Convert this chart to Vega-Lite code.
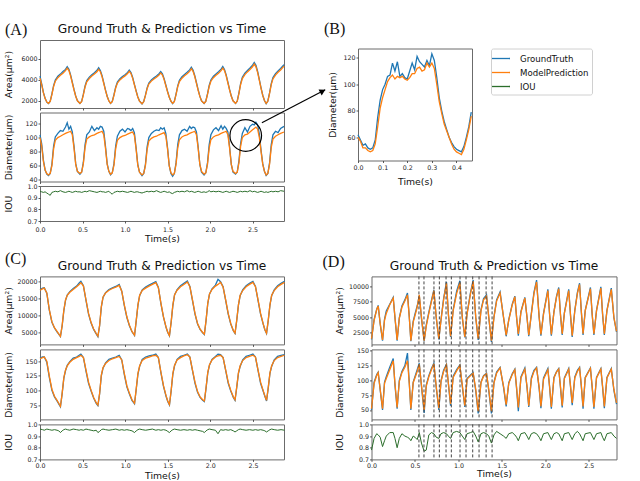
{
"$schema":"https://vega.github.io/schema/vega-lite/v6.json",
"background":"white",
"autosize":{"type":"pad"},
"padding":{"left":3,"top":20.5,"right":0,"bottom":0},
"config":{
 "view":{"stroke":"#6b6b6b","strokeWidth":1},
 "axis":{"grid":false,"domain":false,"tickSize":2,"tickWidth":0.8,"tickColor":"#333","labelFont":"DejaVu Sans","labelFontSize":6.3,"labelColor":"#222","labelPadding":1,"labelFlush":false,"labelOverlap":false,"titleFont":"DejaVu Sans","titleFontSize":9.3,"titleFontWeight":"normal","titleColor":"#111"},
 "title":{"font":"DejaVu Sans","fontWeight":"normal","color":"#111","baseline":"alphabetic","frame":"group"},
 "line":{"strokeWidth":1.3}
},
"datasets":{
"A":[
{"t":0,"ag":4350,"ap":4150,"dg":104,"dp":100,"i":0.955},
{"t":0.02,"ag":3600,"ap":3500,"dg":91,"dp":88,"i":0.95},
{"t":0.04,"ag":2800,"ap":2750,"dg":68,"dp":66,"i":0.945},
{"t":0.06,"ag":2230,"ap":2200,"dg":54,"dp":54,"i":0.95},
{"t":0.08,"ag":1860,"ap":1880,"dg":48,"dp":49,"i":0.94},
{"t":0.1,"ag":1720,"ap":1750,"dg":46,"dp":47,"i":0.93},
{"t":0.12,"ag":1950,"ap":1920,"dg":49,"dp":49,"i":0.92},
{"t":0.14,"ag":2650,"ap":2590,"dg":62,"dp":60,"i":0.945},
{"t":0.16,"ag":3440,"ap":3360,"dg":88,"dp":84,"i":0.95},
{"t":0.18,"ag":3980,"ap":3860,"dg":101,"dp":96,"i":0.955},
{"t":0.21,"ag":4330,"ap":4200,"dg":106,"dp":100,"i":0.95},
{"t":0.24,"ag":4540,"ap":4430,"dg":110,"dp":102,"i":0.96},
{"t":0.27,"ag":4780,"ap":4630,"dg":109,"dp":104,"i":0.95},
{"t":0.3,"ag":4990,"ap":4870,"dg":115,"dp":106,"i":0.945},
{"t":0.32,"ag":5250,"ap":5100,"dg":121,"dp":107,"i":0.95},
{"t":0.34,"ag":5000,"ap":4870,"dg":112,"dp":108,"i":0.955},
{"t":0.36,"ag":4470,"ap":4360,"dg":116,"dp":109,"i":0.95},
{"t":0.38,"ag":3780,"ap":3690,"dg":108,"dp":104,"i":0.945},
{"t":0.4,"ag":3080,"ap":3020,"dg":88,"dp":85,"i":0.95},
{"t":0.42,"ag":2450,"ap":2420,"dg":63,"dp":62,"i":0.955},
{"t":0.44,"ag":2000,"ap":1990,"dg":52,"dp":52,"i":0.95},
{"t":0.47,"ag":1730,"ap":1750,"dg":48,"dp":49,"i":0.95},
{"t":0.49,"ag":1940,"ap":1910,"dg":51,"dp":51,"i":0.945},
{"t":0.51,"ag":2620,"ap":2560,"dg":65,"dp":63,"i":0.95},
{"t":0.53,"ag":3400,"ap":3310,"dg":90,"dp":86,"i":0.955},
{"t":0.55,"ag":3920,"ap":3800,"dg":104,"dp":98,"i":0.95},
{"t":0.58,"ag":4250,"ap":4120,"dg":108,"dp":101,"i":0.96},
{"t":0.61,"ag":4470,"ap":4350,"dg":116,"dp":103,"i":0.955},
{"t":0.64,"ag":4680,"ap":4550,"dg":110,"dp":104,"i":0.95},
{"t":0.67,"ag":4900,"ap":4770,"dg":114,"dp":106,"i":0.945},
{"t":0.69,"ag":5150,"ap":5000,"dg":112,"dp":107,"i":0.95},
{"t":0.71,"ag":4880,"ap":4770,"dg":116,"dp":108,"i":0.955},
{"t":0.73,"ag":4390,"ap":4290,"dg":115,"dp":109,"i":0.95},
{"t":0.75,"ag":3720,"ap":3640,"dg":109,"dp":104,"i":0.95},
{"t":0.77,"ag":3040,"ap":2990,"dg":88,"dp":85,"i":0.945},
{"t":0.79,"ag":2420,"ap":2400,"dg":63,"dp":62,"i":0.95},
{"t":0.81,"ag":1990,"ap":1980,"dg":52,"dp":52,"i":0.955},
{"t":0.83,"ag":1740,"ap":1750,"dg":47,"dp":48,"i":0.94},
{"t":0.85,"ag":1930,"ap":1900,"dg":50,"dp":50,"i":0.93},
{"t":0.87,"ag":2570,"ap":2510,"dg":63,"dp":61,"i":0.945},
{"t":0.89,"ag":3290,"ap":3210,"dg":88,"dp":84,"i":0.95},
{"t":0.91,"ag":3780,"ap":3670,"dg":102,"dp":96,"i":0.955},
{"t":0.94,"ag":4100,"ap":3980,"dg":109,"dp":100,"i":0.95},
{"t":0.97,"ag":4300,"ap":4190,"dg":112,"dp":102,"i":0.955},
{"t":1.0,"ag":4480,"ap":4370,"dg":108,"dp":103,"i":0.95},
{"t":1.03,"ag":4700,"ap":4590,"dg":113,"dp":105,"i":0.945},
{"t":1.05,"ag":4930,"ap":4800,"dg":112,"dp":106,"i":0.95},
{"t":1.07,"ag":4700,"ap":4590,"dg":110,"dp":107,"i":0.955},
{"t":1.09,"ag":4220,"ap":4130,"dg":113,"dp":108,"i":0.95},
{"t":1.11,"ag":3590,"ap":3520,"dg":107,"dp":103,"i":0.945},
{"t":1.13,"ag":2960,"ap":2910,"dg":86,"dp":84,"i":0.95},
{"t":1.15,"ag":2380,"ap":2360,"dg":62,"dp":61,"i":0.95},
{"t":1.17,"ag":1970,"ap":1960,"dg":51,"dp":51,"i":0.945},
{"t":1.2,"ag":1680,"ap":1700,"dg":46,"dp":47,"i":0.94},
{"t":1.22,"ag":1920,"ap":1900,"dg":49,"dp":49,"i":0.945},
{"t":1.24,"ag":2530,"ap":2480,"dg":62,"dp":60,"i":0.95},
{"t":1.26,"ag":3220,"ap":3140,"dg":87,"dp":83,"i":0.955},
{"t":1.28,"ag":3680,"ap":3580,"dg":100,"dp":95,"i":0.95},
{"t":1.31,"ag":3980,"ap":3870,"dg":106,"dp":99,"i":0.955},
{"t":1.34,"ag":4190,"ap":4070,"dg":109,"dp":101,"i":0.95},
{"t":1.37,"ag":4350,"ap":4240,"dg":111,"dp":102,"i":0.96},
{"t":1.4,"ag":4580,"ap":4450,"dg":110,"dp":104,"i":0.95},
{"t":1.42,"ag":4780,"ap":4650,"dg":114,"dp":105,"i":0.945},
{"t":1.44,"ag":4560,"ap":4450,"dg":112,"dp":106,"i":0.95},
{"t":1.46,"ag":4100,"ap":4010,"dg":114,"dp":107,"i":0.955},
{"t":1.48,"ag":3500,"ap":3430,"dg":106,"dp":102,"i":0.95},
{"t":1.5,"ag":2900,"ap":2850,"dg":86,"dp":84,"i":0.945},
{"t":1.52,"ag":2350,"ap":2330,"dg":60,"dp":60,"i":0.95},
{"t":1.54,"ag":1950,"ap":1950,"dg":49,"dp":50,"i":0.94},
{"t":1.56,"ag":1720,"ap":1750,"dg":45,"dp":47,"i":0.935},
{"t":1.58,"ag":1940,"ap":1910,"dg":49,"dp":49,"i":0.945},
{"t":1.6,"ag":2630,"ap":2570,"dg":64,"dp":62,"i":0.95},
{"t":1.62,"ag":3420,"ap":3330,"dg":90,"dp":85,"i":0.955},
{"t":1.64,"ag":3950,"ap":3830,"dg":104,"dp":97,"i":0.95},
{"t":1.67,"ag":4290,"ap":4150,"dg":110,"dp":101,"i":0.955},
{"t":1.7,"ag":4510,"ap":4380,"dg":112,"dp":103,"i":0.95},
{"t":1.73,"ag":4710,"ap":4580,"dg":109,"dp":104,"i":0.96},
{"t":1.76,"ag":4940,"ap":4800,"dg":116,"dp":106,"i":0.95},
{"t":1.78,"ag":5200,"ap":5050,"dg":113,"dp":107,"i":0.955},
{"t":1.8,"ag":4920,"ap":4800,"dg":115,"dp":108,"i":0.95},
{"t":1.82,"ag":4410,"ap":4310,"dg":114,"dp":109,"i":0.945},
{"t":1.84,"ag":3740,"ap":3660,"dg":108,"dp":104,"i":0.95},
{"t":1.86,"ag":3050,"ap":3000,"dg":87,"dp":85,"i":0.955},
{"t":1.88,"ag":2430,"ap":2410,"dg":62,"dp":62,"i":0.95},
{"t":1.9,"ag":1990,"ap":1980,"dg":51,"dp":52,"i":0.945},
{"t":1.93,"ag":1730,"ap":1750,"dg":47,"dp":48,"i":0.95},
{"t":1.95,"ag":1950,"ap":1920,"dg":50,"dp":50,"i":0.945},
{"t":1.97,"ag":2650,"ap":2590,"dg":64,"dp":62,"i":0.95},
{"t":1.99,"ag":3450,"ap":3360,"dg":90,"dp":85,"i":0.96},
{"t":2.01,"ag":3980,"ap":3860,"dg":104,"dp":97,"i":0.95},
{"t":2.04,"ag":4340,"ap":4200,"dg":111,"dp":101,"i":0.955},
{"t":2.07,"ag":4560,"ap":4430,"dg":114,"dp":103,"i":0.95},
{"t":2.1,"ag":4770,"ap":4630,"dg":110,"dp":104,"i":0.955},
{"t":2.13,"ag":5010,"ap":4870,"dg":117,"dp":106,"i":0.95},
{"t":2.15,"ag":5260,"ap":5100,"dg":112,"dp":107,"i":0.945},
{"t":2.17,"ag":4990,"ap":4870,"dg":116,"dp":108,"i":0.95},
{"t":2.19,"ag":4460,"ap":4360,"dg":113,"dp":109,"i":0.955},
{"t":2.21,"ag":3770,"ap":3690,"dg":108,"dp":104,"i":0.95},
{"t":2.23,"ag":3070,"ap":3020,"dg":87,"dp":85,"i":0.945},
{"t":2.25,"ag":2440,"ap":2420,"dg":62,"dp":62,"i":0.95},
{"t":2.27,"ag":2000,"ap":1990,"dg":51,"dp":52,"i":0.955},
{"t":2.3,"ag":1730,"ap":1750,"dg":48,"dp":49,"i":0.95},
{"t":2.32,"ag":1970,"ap":1940,"dg":51,"dp":51,"i":0.945},
{"t":2.34,"ag":2750,"ap":2690,"dg":67,"dp":64,"i":0.95},
{"t":2.36,"ag":3650,"ap":3550,"dg":92,"dp":88,"i":0.955},
{"t":2.38,"ag":4240,"ap":4110,"dg":106,"dp":100,"i":0.95},
{"t":2.41,"ag":4630,"ap":4490,"dg":114,"dp":104,"i":0.955},
{"t":2.44,"ag":4890,"ap":4750,"dg":108,"dp":105,"i":0.95},
{"t":2.47,"ag":5130,"ap":4980,"dg":116,"dp":108,"i":0.96},
{"t":2.5,"ag":5400,"ap":5240,"dg":119,"dp":111,"i":0.95},
{"t":2.52,"ag":5650,"ap":5500,"dg":118,"dp":113,"i":0.955},
{"t":2.54,"ag":5380,"ap":5240,"dg":122,"dp":115,"i":0.95},
{"t":2.56,"ag":4790,"ap":4680,"dg":118,"dp":112,"i":0.945},
{"t":2.58,"ag":4010,"ap":3930,"dg":105,"dp":100,"i":0.95},
{"t":2.6,"ag":3230,"ap":3180,"dg":82,"dp":80,"i":0.955},
{"t":2.62,"ag":2520,"ap":2500,"dg":63,"dp":62,"i":0.95},
{"t":2.64,"ag":2020,"ap":2010,"dg":52,"dp":52,"i":0.945},
{"t":2.66,"ag":1720,"ap":1750,"dg":46,"dp":47,"i":0.95},
{"t":2.68,"ag":1970,"ap":1940,"dg":49,"dp":49,"i":0.945},
{"t":2.7,"ag":2740,"ap":2680,"dg":64,"dp":62,"i":0.95},
{"t":2.72,"ag":3630,"ap":3530,"dg":90,"dp":86,"i":0.955},
{"t":2.74,"ag":4210,"ap":4080,"dg":104,"dp":98,"i":0.95},
{"t":2.77,"ag":4590,"ap":4450,"dg":109,"dp":102,"i":0.955},
{"t":2.8,"ag":4850,"ap":4710,"dg":107,"dp":104,"i":0.95},
{"t":2.83,"ag":5080,"ap":4930,"dg":113,"dp":106,"i":0.96},
{"t":2.87,"ag":5450,"ap":5300,"dg":116,"dp":108,"i":0.955}
],
"B":[
{"t":0,"GroundTruth":62,"ModelPrediction":60},{"t":0.01,"GroundTruth":58,"ModelPrediction":57},{"t":0.02,"GroundTruth":54,"ModelPrediction":52},{"t":0.03,"GroundTruth":55,"ModelPrediction":52},{"t":0.04,"GroundTruth":52,"ModelPrediction":50},{"t":0.05,"GroundTruth":51,"ModelPrediction":49},{"t":0.06,"GroundTruth":52,"ModelPrediction":50},{"t":0.07,"GroundTruth":58,"ModelPrediction":55},{"t":0.08,"GroundTruth":75,"ModelPrediction":68},{"t":0.09,"GroundTruth":88,"ModelPrediction":82},{"t":0.1,"GroundTruth":96,"ModelPrediction":90},{"t":0.11,"GroundTruth":100,"ModelPrediction":96},{"t":0.12,"GroundTruth":106,"ModelPrediction":102},{"t":0.13,"GroundTruth":107,"ModelPrediction":105},{"t":0.14,"GroundTruth":116,"ModelPrediction":107},{"t":0.15,"GroundTruth":110,"ModelPrediction":104},{"t":0.16,"GroundTruth":117,"ModelPrediction":106},{"t":0.17,"GroundTruth":106,"ModelPrediction":105},{"t":0.18,"GroundTruth":108,"ModelPrediction":106},{"t":0.19,"GroundTruth":105,"ModelPrediction":104},{"t":0.2,"GroundTruth":104,"ModelPrediction":103},{"t":0.21,"GroundTruth":110,"ModelPrediction":105},{"t":0.22,"GroundTruth":116,"ModelPrediction":108},{"t":0.23,"GroundTruth":111,"ModelPrediction":108},{"t":0.24,"GroundTruth":121,"ModelPrediction":112},{"t":0.25,"GroundTruth":117,"ModelPrediction":113},{"t":0.26,"GroundTruth":115,"ModelPrediction":110},{"t":0.27,"GroundTruth":113,"ModelPrediction":111},{"t":0.28,"GroundTruth":118,"ModelPrediction":116},{"t":0.29,"GroundTruth":114,"ModelPrediction":113},{"t":0.3,"GroundTruth":123,"ModelPrediction":116},{"t":0.31,"GroundTruth":118,"ModelPrediction":112},{"t":0.32,"GroundTruth":105,"ModelPrediction":100},{"t":0.33,"GroundTruth":90,"ModelPrediction":87},{"t":0.34,"GroundTruth":80,"ModelPrediction":78},{"t":0.35,"GroundTruth":72,"ModelPrediction":70},{"t":0.36,"GroundTruth":66,"ModelPrediction":65},{"t":0.37,"GroundTruth":60,"ModelPrediction":60},{"t":0.38,"GroundTruth":56,"ModelPrediction":55},{"t":0.39,"GroundTruth":53,"ModelPrediction":51},{"t":0.4,"GroundTruth":51,"ModelPrediction":49},{"t":0.41,"GroundTruth":50,"ModelPrediction":48},{"t":0.42,"GroundTruth":49,"ModelPrediction":47},{"t":0.43,"GroundTruth":53,"ModelPrediction":51},{"t":0.44,"GroundTruth":60,"ModelPrediction":58},{"t":0.45,"GroundTruth":68,"ModelPrediction":66},{"t":0.46,"GroundTruth":79,"ModelPrediction":76}
],
"C":[
{"t":0,"ag":17500,"ap":17300,"dg":155,"dp":154,"i":0.96},
{"t":0.03,"ag":17900,"ap":17700,"dg":157,"dp":156,"i":0.955},
{"t":0.05,"ag":18000,"ap":17900,"dg":157,"dp":157,"i":0.95},
{"t":0.08,"ag":16400,"ap":16500,"dg":148,"dp":150,"i":0.96},
{"t":0.11,"ag":11400,"ap":11500,"dg":122,"dp":124,"i":0.955},
{"t":0.14,"ag":7900,"ap":8000,"dg":100,"dp":102,"i":0.95},
{"t":0.17,"ag":6200,"ap":6300,"dg":89,"dp":90,"i":0.955},
{"t":0.2,"ag":5100,"ap":5200,"dg":82,"dp":83,"i":0.95},
{"t":0.22,"ag":4400,"ap":4500,"dg":77,"dp":78,"i":0.945},
{"t":0.24,"ag":3700,"ap":3800,"dg":72,"dp":73,"i":0.93},
{"t":0.26,"ag":6800,"ap":7000,"dg":94,"dp":95,"i":0.945},
{"t":0.28,"ag":11300,"ap":11500,"dg":121,"dp":122,"i":0.955},
{"t":0.3,"ag":14300,"ap":14500,"dg":134,"dp":135,"i":0.96},
{"t":0.32,"ag":15900,"ap":15800,"dg":143,"dp":142,"i":0.955},
{"t":0.35,"ag":16900,"ap":16700,"dg":149,"dp":148,"i":0.95},
{"t":0.39,"ag":17800,"ap":17500,"dg":155,"dp":153,"i":0.96},
{"t":0.43,"ag":18500,"ap":18300,"dg":157,"dp":156,"i":0.955},
{"t":0.46,"ag":19400,"ap":19000,"dg":160,"dp":158,"i":0.95},
{"t":0.48,"ag":19900,"ap":19500,"dg":162,"dp":160,"i":0.955},
{"t":0.51,"ag":18600,"ap":18500,"dg":156,"dp":156,"i":0.95},
{"t":0.54,"ag":14300,"ap":14500,"dg":133,"dp":135,"i":0.96},
{"t":0.57,"ag":10300,"ap":10500,"dg":112,"dp":114,"i":0.955},
{"t":0.6,"ag":7700,"ap":7800,"dg":99,"dp":100,"i":0.95},
{"t":0.63,"ag":5800,"ap":5900,"dg":87,"dp":88,"i":0.945},
{"t":0.66,"ag":4500,"ap":4600,"dg":78,"dp":79,"i":0.95},
{"t":0.68,"ag":3700,"ap":3800,"dg":74,"dp":75,"i":0.93},
{"t":0.7,"ag":6900,"ap":7000,"dg":94,"dp":95,"i":0.94},
{"t":0.72,"ag":12300,"ap":12500,"dg":125,"dp":126,"i":0.955},
{"t":0.74,"ag":15200,"ap":15300,"dg":138,"dp":139,"i":0.96},
{"t":0.77,"ag":16600,"ap":16500,"dg":147,"dp":146,"i":0.955},
{"t":0.81,"ag":17500,"ap":17300,"dg":153,"dp":151,"i":0.95},
{"t":0.85,"ag":18000,"ap":17800,"dg":155,"dp":154,"i":0.955},
{"t":0.89,"ag":18400,"ap":18200,"dg":157,"dp":156,"i":0.96},
{"t":0.93,"ag":19000,"ap":18700,"dg":160,"dp":158,"i":0.95},
{"t":0.96,"ag":17000,"ap":17000,"dg":152,"dp":152,"i":0.955},
{"t":0.99,"ag":12800,"ap":13000,"dg":127,"dp":129,"i":0.95},
{"t":1.02,"ag":9300,"ap":9500,"dg":106,"dp":108,"i":0.955},
{"t":1.05,"ag":6900,"ap":7000,"dg":94,"dp":95,"i":0.95},
{"t":1.08,"ag":5100,"ap":5200,"dg":83,"dp":84,"i":0.945},
{"t":1.11,"ag":4000,"ap":4100,"dg":77,"dp":78,"i":0.93},
{"t":1.13,"ag":8300,"ap":8500,"dg":102,"dp":103,"i":0.945},
{"t":1.15,"ag":12900,"ap":13000,"dg":128,"dp":129,"i":0.955},
{"t":1.17,"ag":15700,"ap":15800,"dg":141,"dp":142,"i":0.96},
{"t":1.2,"ag":17400,"ap":17200,"dg":153,"dp":151,"i":0.955},
{"t":1.24,"ag":18200,"ap":17900,"dg":157,"dp":155,"i":0.95},
{"t":1.28,"ag":18800,"ap":18500,"dg":159,"dp":157,"i":0.955},
{"t":1.32,"ag":19300,"ap":19000,"dg":160,"dp":159,"i":0.96},
{"t":1.36,"ag":19800,"ap":19500,"dg":162,"dp":160,"i":0.95},
{"t":1.39,"ag":18100,"ap":18000,"dg":156,"dp":156,"i":0.955},
{"t":1.42,"ag":13300,"ap":13500,"dg":130,"dp":131,"i":0.95},
{"t":1.45,"ag":9400,"ap":9500,"dg":107,"dp":108,"i":0.955},
{"t":1.48,"ag":6400,"ap":6500,"dg":90,"dp":91,"i":0.95},
{"t":1.5,"ag":4900,"ap":5000,"dg":81,"dp":82,"i":0.94},
{"t":1.52,"ag":3900,"ap":4000,"dg":75,"dp":76,"i":0.93},
{"t":1.54,"ag":7900,"ap":8000,"dg":99,"dp":100,"i":0.945},
{"t":1.56,"ag":12800,"ap":13000,"dg":128,"dp":129,"i":0.955},
{"t":1.58,"ag":15900,"ap":16000,"dg":142,"dp":143,"i":0.96},
{"t":1.61,"ag":17500,"ap":17300,"dg":153,"dp":152,"i":0.955},
{"t":1.65,"ag":18600,"ap":18300,"dg":158,"dp":156,"i":0.95},
{"t":1.69,"ag":19300,"ap":19000,"dg":160,"dp":159,"i":0.955},
{"t":1.73,"ag":20000,"ap":19700,"dg":162,"dp":161,"i":0.95},
{"t":1.76,"ag":18400,"ap":18300,"dg":157,"dp":157,"i":0.955},
{"t":1.79,"ag":14300,"ap":14500,"dg":134,"dp":135,"i":0.95},
{"t":1.82,"ag":10300,"ap":10500,"dg":112,"dp":114,"i":0.955},
{"t":1.85,"ag":7400,"ap":7500,"dg":97,"dp":98,"i":0.95},
{"t":1.88,"ag":5800,"ap":5900,"dg":88,"dp":89,"i":0.945},
{"t":1.91,"ag":4800,"ap":4900,"dg":83,"dp":84,"i":0.94},
{"t":1.93,"ag":4300,"ap":4400,"dg":81,"dp":82,"i":0.93},
{"t":1.95,"ag":8400,"ap":8500,"dg":104,"dp":105,"i":0.945},
{"t":1.97,"ag":13400,"ap":13500,"dg":130,"dp":131,"i":0.955},
{"t":1.99,"ag":16100,"ap":16200,"dg":143,"dp":144,"i":0.96},
{"t":2.02,"ag":17700,"ap":17500,"dg":153,"dp":152,"i":0.955},
{"t":2.06,"ag":18800,"ap":18500,"dg":158,"dp":157,"i":0.95},
{"t":2.09,"ag":20500,"ap":19000,"dg":162,"dp":159,"i":0.92},
{"t":2.12,"ag":19800,"ap":19600,"dg":161,"dp":160,"i":0.955},
{"t":2.15,"ag":18300,"ap":18200,"dg":156,"dp":156,"i":0.95},
{"t":2.18,"ag":14300,"ap":14500,"dg":134,"dp":135,"i":0.955},
{"t":2.21,"ag":10300,"ap":10500,"dg":112,"dp":114,"i":0.95},
{"t":2.24,"ag":7400,"ap":7500,"dg":99,"dp":100,"i":0.955},
{"t":2.27,"ag":5400,"ap":5500,"dg":88,"dp":89,"i":0.945},
{"t":2.29,"ag":4600,"ap":4700,"dg":83,"dp":84,"i":0.935},
{"t":2.31,"ag":8400,"ap":8500,"dg":105,"dp":106,"i":0.945},
{"t":2.33,"ag":12900,"ap":13000,"dg":129,"dp":130,"i":0.955},
{"t":2.35,"ag":15700,"ap":15800,"dg":141,"dp":142,"i":0.96},
{"t":2.38,"ag":17400,"ap":17200,"dg":152,"dp":151,"i":0.955},
{"t":2.42,"ag":18600,"ap":18300,"dg":158,"dp":156,"i":0.95},
{"t":2.46,"ag":19300,"ap":19000,"dg":160,"dp":158,"i":0.955},
{"t":2.5,"ag":19900,"ap":19600,"dg":162,"dp":160,"i":0.95},
{"t":2.53,"ag":18400,"ap":18300,"dg":157,"dp":157,"i":0.955},
{"t":2.56,"ag":14300,"ap":14500,"dg":134,"dp":135,"i":0.95},
{"t":2.59,"ag":10300,"ap":10500,"dg":112,"dp":114,"i":0.955},
{"t":2.62,"ag":7400,"ap":7500,"dg":99,"dp":100,"i":0.95},
{"t":2.64,"ag":5700,"ap":5800,"dg":90,"dp":91,"i":0.945},
{"t":2.66,"ag":4600,"ap":4700,"dg":82,"dp":83,"i":0.935},
{"t":2.68,"ag":8400,"ap":8500,"dg":104,"dp":105,"i":0.945},
{"t":2.7,"ag":12900,"ap":13000,"dg":129,"dp":130,"i":0.955},
{"t":2.72,"ag":15700,"ap":15800,"dg":141,"dp":142,"i":0.96},
{"t":2.75,"ag":17400,"ap":17200,"dg":152,"dp":151,"i":0.955},
{"t":2.79,"ag":18600,"ap":18300,"dg":158,"dp":156,"i":0.95},
{"t":2.83,"ag":19300,"ap":19000,"dg":160,"dp":158,"i":0.955},
{"t":2.87,"ag":19900,"ap":19600,"dg":161,"dp":160,"i":0.95}
],
"D":[
{"t":0,"ag":1400,"ap":1500,"dg":50,"dp":52,"i":0.78},
{"t":0.03,"ag":4600,"ap":4500,"dg":97,"dp":95,"i":0.88},
{"t":0.06,"ag":6300,"ap":6200,"dg":110,"dp":108,"i":0.92},
{"t":0.077,"ag":6900,"ap":6800,"dg":114,"dp":113,"i":0.91},
{"t":0.1,"ag":3900,"ap":4000,"dg":84,"dp":85,"i":0.89},
{"t":0.127,"ag":1200,"ap":1300,"dg":50,"dp":52,"i":0.81},
{"t":0.15,"ag":4700,"ap":4500,"dg":97,"dp":95,"i":0.86},
{"t":0.17,"ag":6000,"ap":5600,"dg":106,"dp":103,"i":0.9},
{"t":0.21,"ag":7100,"ap":7000,"dg":122,"dp":118,"i":0.93},
{"t":0.25,"ag":8200,"ap":8100,"dg":137,"dp":133,"i":0.93},
{"t":0.27,"ag":4900,"ap":5000,"dg":92,"dp":95,"i":0.88},
{"t":0.295,"ag":1200,"ap":1300,"dg":52,"dp":54,"i":0.8},
{"t":0.32,"ag":4900,"ap":4800,"dg":100,"dp":98,"i":0.88},
{"t":0.35,"ag":6800,"ap":6600,"dg":115,"dp":113,"i":0.92},
{"t":0.384,"ag":7800,"ap":7600,"dg":125,"dp":122,"i":0.9},
{"t":0.414,"ag":8900,"ap":8600,"dg":146,"dp":133,"i":0.89},
{"t":0.435,"ag":5000,"ap":5000,"dg":95,"dp":95,"i":0.88},
{"t":0.453,"ag":1100,"ap":1200,"dg":50,"dp":52,"i":0.86},
{"t":0.48,"ag":4300,"ap":4200,"dg":97,"dp":96,"i":0.9},
{"t":0.5,"ag":5500,"ap":5200,"dg":106,"dp":104,"i":0.89},
{"t":0.526,"ag":6800,"ap":6600,"dg":118,"dp":115,"i":0.87},
{"t":0.55,"ag":8500,"ap":8600,"dg":129,"dp":127,"i":0.93},
{"t":0.575,"ag":4800,"ap":5000,"dg":90,"dp":92,"i":0.84},
{"t":0.606,"ag":1100,"ap":1200,"dg":45,"dp":50,"i":0.77},
{"t":0.63,"ag":3700,"ap":3500,"dg":92,"dp":90,"i":0.78},
{"t":0.66,"ag":5800,"ap":5600,"dg":108,"dp":106,"i":0.91},
{"t":0.69,"ag":7700,"ap":7500,"dg":120,"dp":118,"i":0.93},
{"t":0.718,"ag":9400,"ap":9300,"dg":129,"dp":128,"i":0.92},
{"t":0.745,"ag":4900,"ap":5000,"dg":88,"dp":90,"i":0.89},
{"t":0.775,"ag":1400,"ap":1500,"dg":50,"dp":53,"i":0.88},
{"t":0.8,"ag":4600,"ap":4500,"dg":99,"dp":98,"i":0.92},
{"t":0.83,"ag":8000,"ap":7800,"dg":117,"dp":115,"i":0.93},
{"t":0.863,"ag":10700,"ap":10500,"dg":127,"dp":126,"i":0.92},
{"t":0.885,"ag":5400,"ap":5500,"dg":94,"dp":95,"i":0.9},
{"t":0.91,"ag":1800,"ap":1900,"dg":57,"dp":60,"i":0.88},
{"t":0.94,"ag":6200,"ap":6000,"dg":107,"dp":105,"i":0.93},
{"t":0.98,"ag":9200,"ap":8800,"dg":118,"dp":116,"i":0.94},
{"t":1.017,"ag":10900,"ap":10600,"dg":126,"dp":125,"i":0.93},
{"t":1.045,"ag":4900,"ap":5000,"dg":90,"dp":92,"i":0.9},
{"t":1.074,"ag":1700,"ap":1800,"dg":55,"dp":57,"i":0.87},
{"t":1.1,"ag":5600,"ap":5500,"dg":103,"dp":102,"i":0.92},
{"t":1.14,"ag":9000,"ap":8800,"dg":109,"dp":108,"i":0.93},
{"t":1.17,"ag":11000,"ap":10800,"dg":113,"dp":112,"i":0.94},
{"t":1.2,"ag":4900,"ap":5000,"dg":82,"dp":85,"i":0.9},
{"t":1.228,"ag":1300,"ap":1500,"dg":44,"dp":48,"i":0.85},
{"t":1.26,"ag":6200,"ap":6000,"dg":97,"dp":96,"i":0.92},
{"t":1.29,"ag":8000,"ap":7800,"dg":108,"dp":107,"i":0.93},
{"t":1.324,"ag":8600,"ap":8400,"dg":112,"dp":111,"i":0.92},
{"t":1.35,"ag":4900,"ap":5000,"dg":82,"dp":85,"i":0.9},
{"t":1.38,"ag":1000,"ap":1200,"dg":44,"dp":48,"i":0.84},
{"t":1.41,"ag":5100,"ap":5000,"dg":97,"dp":96,"i":0.91},
{"t":1.44,"ag":7800,"ap":7600,"dg":114,"dp":112,"i":0.94},
{"t":1.48,"ag":9100,"ap":8900,"dg":122,"dp":121,"i":0.92},
{"t":1.52,"ag":4900,"ap":5000,"dg":88,"dp":90,"i":0.9},
{"t":1.55,"ag":1900,"ap":2100,"dg":56,"dp":59,"i":0.88},
{"t":1.58,"ag":4600,"ap":4500,"dg":96,"dp":95,"i":0.92},
{"t":1.62,"ag":7100,"ap":7000,"dg":111,"dp":110,"i":0.93},
{"t":1.65,"ag":8400,"ap":8300,"dg":119,"dp":118,"i":0.91},
{"t":1.67,"ag":4900,"ap":5000,"dg":86,"dp":88,"i":0.89},
{"t":1.69,"ag":2000,"ap":2300,"dg":48,"dp":54,"i":0.86},
{"t":1.72,"ag":5900,"ap":5800,"dg":106,"dp":104,"i":0.92},
{"t":1.765,"ag":8200,"ap":8100,"dg":121,"dp":119,"i":0.93},
{"t":1.79,"ag":4900,"ap":5000,"dg":88,"dp":90,"i":0.9},
{"t":1.81,"ag":1900,"ap":2100,"dg":55,"dp":57,"i":0.87},
{"t":1.84,"ag":5600,"ap":5500,"dg":104,"dp":102,"i":0.92},
{"t":1.87,"ag":9000,"ap":8800,"dg":117,"dp":115,"i":0.93},
{"t":1.9,"ag":11000,"ap":10700,"dg":122,"dp":121,"i":0.92},
{"t":1.93,"ag":4900,"ap":5000,"dg":86,"dp":88,"i":0.89},
{"t":1.95,"ag":2000,"ap":2200,"dg":53,"dp":56,"i":0.86},
{"t":1.98,"ag":5600,"ap":5500,"dg":104,"dp":102,"i":0.92},
{"t":2.03,"ag":9500,"ap":9300,"dg":120,"dp":118,"i":0.93},
{"t":2.05,"ag":5400,"ap":5500,"dg":88,"dp":90,"i":0.9},
{"t":2.07,"ag":2000,"ap":2200,"dg":52,"dp":55,"i":0.87},
{"t":2.1,"ag":5900,"ap":5800,"dg":105,"dp":104,"i":0.92},
{"t":2.13,"ag":8400,"ap":8300,"dg":115,"dp":114,"i":0.93},
{"t":2.155,"ag":9800,"ap":9600,"dg":120,"dp":119,"i":0.92},
{"t":2.175,"ag":5400,"ap":5500,"dg":88,"dp":90,"i":0.89},
{"t":2.195,"ag":2100,"ap":2300,"dg":54,"dp":57,"i":0.86},
{"t":2.22,"ag":5700,"ap":5600,"dg":104,"dp":103,"i":0.92},
{"t":2.27,"ag":9500,"ap":9300,"dg":120,"dp":119,"i":0.93},
{"t":2.29,"ag":5400,"ap":5500,"dg":90,"dp":92,"i":0.9},
{"t":2.31,"ag":1800,"ap":2000,"dg":58,"dp":62,"i":0.87},
{"t":2.34,"ag":6100,"ap":6000,"dg":106,"dp":104,"i":0.92},
{"t":2.37,"ag":9000,"ap":8800,"dg":117,"dp":115,"i":0.94},
{"t":2.395,"ag":10500,"ap":10300,"dg":122,"dp":121,"i":0.92},
{"t":2.415,"ag":5900,"ap":6000,"dg":90,"dp":92,"i":0.89},
{"t":2.435,"ag":2100,"ap":2300,"dg":52,"dp":56,"i":0.86},
{"t":2.46,"ag":6100,"ap":6000,"dg":105,"dp":104,"i":0.92},
{"t":2.52,"ag":9800,"ap":9600,"dg":121,"dp":120,"i":0.93},
{"t":2.54,"ag":5400,"ap":5500,"dg":88,"dp":90,"i":0.9},
{"t":2.56,"ag":2100,"ap":2300,"dg":52,"dp":55,"i":0.87},
{"t":2.59,"ag":6100,"ap":6000,"dg":105,"dp":104,"i":0.92},
{"t":2.64,"ag":9900,"ap":9700,"dg":120,"dp":119,"i":0.93},
{"t":2.66,"ag":5400,"ap":5500,"dg":88,"dp":90,"i":0.89},
{"t":2.68,"ag":2100,"ap":2300,"dg":53,"dp":56,"i":0.86},
{"t":2.71,"ag":6100,"ap":6000,"dg":105,"dp":104,"i":0.92},
{"t":2.76,"ag":9700,"ap":9500,"dg":120,"dp":119,"i":0.93},
{"t":2.79,"ag":4900,"ap":5000,"dg":83,"dp":85,"i":0.9},
{"t":2.82,"ag":2600,"ap":2700,"dg":60,"dp":62,"i":0.88}
],
"Dm":[{"t":0.546},{"t":0.604},{"t":0.719},{"t":0.781},{"t":0.858},{"t":0.919},{"t":1.019},{"t":1.088},{"t":1.165},{"t":1.238},{"t":1.319},{"t":1.388}]
},
"vconcat":[
 {"hconcat":[
  {"vconcat":[
   {"width":244,"height":1,"data":{"values":[{}]},"mark":{"type":"point","opacity":0},"view":{"stroke":null},
    "title":{"text":"(A)","font":"Liberation Serif","fontSize":16,"anchor":"start","dx":-35,"offset":-5.5}},
   {"width":244,"height":68,"data":{"name":"A"},
    "title":{"text":"Ground Truth & Prediction vs Time","fontSize":12.2,"offset":5},
    "transform":[{"fold":["ag","ap"],"as":["k","v"]}],
    "mark":{"type":"line"},
    "encoding":{
     "x":{"field":"t","type":"quantitative","scale":{"domain":[0,2.87],"nice":false},"axis":{"values":[0,0.5,1,1.5,2,2.5],"labels":false,"title":null}},
     "y":{"field":"v","type":"quantitative","title":"Area(μm²)","scale":{"domain":[1300,7800],"nice":false,"zero":false},"axis":{"values":[2000,4000,6000],"format":"d","titleX":-27}},
     "color":{"field":"k","type":"nominal","scale":{"domain":["ag","ap","dg","dp"],"range":["#1f77b4","#ff7f0e","#1f77b4","#ff7f0e"]},"legend":null}}},
   {"width":244,"height":69,
    "encoding":{
     "x":{"field":"t","type":"quantitative","scale":{"domain":[0,2.87],"nice":false},"axis":{"values":[0,0.5,1,1.5,2,2.5],"labels":false,"title":null}},
     "y":{"field":"v","type":"quantitative","title":"Diameter(μm)","scale":{"domain":[37.6,135.7],"nice":false,"zero":false},"axis":{"values":[40,60,80,100,120],"titleX":-27}}},
    "layer":[
     {"data":{"name":"A"},"transform":[{"fold":["dg","dp"],"as":["k","v"]}],"mark":{"type":"line"},
      "encoding":{
       "color":{"field":"k","type":"nominal","scale":{"domain":["ag","ap","dg","dp"],"range":["#1f77b4","#ff7f0e","#1f77b4","#ff7f0e"]},"legend":null}}},
     {"data":{"values":[{"t":2.42,"v":103}]},"mark":{"type":"point","shape":"circle","filled":false,"color":"black","strokeWidth":1.2,"size":1000,"opacity":1}},
     {"data":{"values":[{"t":2.61,"v":121},{"t":3.355,"v":168}]},"mark":{"type":"line","color":"black","strokeWidth":1.2}},
     {"data":{"values":[{"t":3.325,"v":166}]},"mark":{"type":"point","shape":"triangle-up","filled":true,"color":"black","size":45,"angle":62,"opacity":1}}
    ]},
   {"width":244,"height":35,"data":{"name":"A"},"mark":{"type":"line","color":"#2b6e2b","strokeWidth":1},
    "encoding":{
     "x":{"field":"t","type":"quantitative","scale":{"domain":[0,2.87],"nice":false},"axis":{"values":[0,0.5,1,1.5,2,2.5],"format":".1f","title":"Time(s)","labelPadding":3.5,"titleY":13.5}},
     "y":{"field":"i","type":"quantitative","scale":{"domain":[0.7,1],"nice":false,"zero":false},"axis":{"values":[0.7,0.8,0.9,1],"format":".1f","title":"IOU","titleX":-27}}}}
  ],"spacing":4.5,"bounds":"flush"},
  {"vconcat":[
   {"width":114,"height":1,"data":{"values":[{}]},"mark":{"type":"point","opacity":0},"view":{"stroke":null},
    "title":{"text":"(B)","font":"Liberation Serif","fontSize":16,"anchor":"start","dx":-34,"offset":-5}},
   {"width":114,"height":112,"data":{"name":"B"},
    "transform":[{"fold":["GroundTruth","ModelPrediction"],"as":["series","v"]}],
    "mark":{"type":"line"},
    "encoding":{
     "x":{"field":"t","type":"quantitative","scale":{"domain":[0,0.463],"nice":false},"axis":{"values":[0,0.1,0.2,0.3,0.4],"format":".1f","title":"Time(s)","labelPadding":2,"titleY":16.5}},
     "y":{"field":"v","type":"quantitative","title":"Diameter(μm)","scale":{"domain":[42.5,127],"nice":false,"zero":false},"axis":{"values":[60,80,100,120],"titleX":-21}},
     "color":{"field":"series","type":"nominal","scale":{"domain":["GroundTruth","ModelPrediction","IOU"],"range":["#1f77b4","#ff7f0e","#2b6e2b"]},
      "legend":{"title":null,"orient":"right","offset":17,"strokeColor":"#d0d0d0","fillColor":"white","padding":3,"cornerRadius":2,"symbolType":"M-1.5,0H1.5","symbolStrokeWidth":1.8,"symbolSize":144,"labelFont":"DejaVu Sans","labelFontSize":8.6,"labelColor":"#111","rowPadding":2,"labelOffset":12}}}}
  ],"spacing":13,"bounds":"flush","resolve":{"scale":{"color":"independent"},"legend":{"color":"independent"}}}
 ],"spacing":-5,"resolve":{"scale":{"color":"independent"},"legend":{"color":"independent"}}},
 {"hconcat":[
  {"vconcat":[
   {"width":244,"height":1,"data":{"values":[{}]},"mark":{"type":"point","opacity":0},"view":{"stroke":null},
    "title":{"text":"(C)","font":"Liberation Serif","fontSize":16,"anchor":"start","dx":-35,"offset":1}},
   {"width":244,"height":68,"data":{"name":"C"},
    "title":{"text":"Ground Truth & Prediction vs Time","fontSize":12.2,"offset":4.5},
    "transform":[{"fold":["ag","ap"],"as":["k","v"]}],
    "mark":{"type":"line"},
    "encoding":{
     "x":{"field":"t","type":"quantitative","scale":{"domain":[0,2.865],"nice":false},"axis":{"values":[0,0.5,1,1.5,2,2.5],"labels":false,"title":null}},
     "y":{"field":"v","type":"quantitative","title":"Area(μm²)","scale":{"domain":[1400,21350],"nice":false,"zero":false},"axis":{"values":[5000,10000,15000,20000],"format":"d","titleX":-27}},
     "color":{"field":"k","type":"nominal","scale":{"domain":["ag","ap","dg","dp"],"range":["#1f77b4","#ff7f0e","#1f77b4","#ff7f0e"]},"legend":null}}},
   {"width":244,"height":70,"data":{"name":"C"},
    "transform":[{"fold":["dg","dp"],"as":["k","v"]}],
    "mark":{"type":"line"},
    "encoding":{
     "x":{"field":"t","type":"quantitative","scale":{"domain":[0,2.865],"nice":false},"axis":{"values":[0,0.5,1,1.5,2,2.5],"labels":false,"title":null}},
     "y":{"field":"v","type":"quantitative","title":"Diameter(μm)","scale":{"domain":[50.5,170],"nice":false,"zero":false},"axis":{"values":[75,100,125,150],"titleX":-27}},
     "color":{"field":"k","type":"nominal","scale":{"domain":["ag","ap","dg","dp"],"range":["#1f77b4","#ff7f0e","#1f77b4","#ff7f0e"]},"legend":null}}},
   {"width":244,"height":35,"data":{"name":"C"},"mark":{"type":"line","color":"#2b6e2b","strokeWidth":1},
    "encoding":{
     "x":{"field":"t","type":"quantitative","scale":{"domain":[0,2.865],"nice":false},"axis":{"values":[0,0.5,1,1.5,2,2.5],"format":".1f","title":"Time(s)","labelPadding":0.7,"titleY":12}},
     "y":{"field":"i","type":"quantitative","scale":{"domain":[0.7,1],"nice":false,"zero":false},"axis":{"values":[0.7,0.8,0.9,1],"format":".1f","title":"IOU","titleX":-27}}}}
  ],"spacing":5,"bounds":"flush"},
  {"vconcat":[
   {"width":245,"height":1,"data":{"values":[{}]},"mark":{"type":"point","opacity":0},"view":{"stroke":null},
    "title":{"text":"(D)","font":"Liberation Serif","fontSize":16,"anchor":"start","dx":-49,"offset":-2}},
   {"width":245,"height":68,
    "title":{"text":"Ground Truth & Prediction vs Time","fontSize":12.2,"offset":4},
    "encoding":{"x":{"field":"t","type":"quantitative","scale":{"domain":[0,2.82],"nice":false},"axis":{"values":[0,0.5,1,1.5,2,2.5],"labels":false,"title":null}}},
    "layer":[
     {"data":{"name":"D"},"transform":[{"fold":["ag","ap"],"as":["k","v"]}],"mark":{"type":"line"},
      "encoding":{
       "y":{"field":"v","type":"quantitative","title":"Area(μm²)","scale":{"domain":[585,11600],"nice":false,"zero":false},"axis":{"values":[2500,5000,7500,10000],"format":"d","titleX":-27}},
       "color":{"field":"k","type":"nominal","scale":{"domain":["ag","ap","dg","dp"],"range":["#1f77b4","#ff7f0e","#1f77b4","#ff7f0e"]},"legend":null}}},
     {"data":{"name":"Dm"},"mark":{"type":"rule","color":"#444","strokeWidth":1,"strokeDash":[3,2]},"encoding":{}}
    ]},
   {"width":245,"height":70,
    "encoding":{"x":{"field":"t","type":"quantitative","scale":{"domain":[0,2.82],"nice":false},"axis":{"values":[0,0.5,1,1.5,2,2.5],"labels":false,"title":null}}},
    "layer":[
     {"data":{"name":"D"},"transform":[{"fold":["dg","dp"],"as":["k","v"]}],"mark":{"type":"line"},
      "encoding":{
       "y":{"field":"v","type":"quantitative","title":"Diameter(μm)","scale":{"domain":[34,152.3],"nice":false,"zero":false},"axis":{"values":[50,75,100,125,150],"titleX":-27}},
       "color":{"field":"k","type":"nominal","scale":{"domain":["ag","ap","dg","dp"],"range":["#1f77b4","#ff7f0e","#1f77b4","#ff7f0e"]},"legend":null}}},
     {"data":{"name":"Dm"},"mark":{"type":"rule","color":"#444","strokeWidth":1,"strokeDash":[3,2]},"encoding":{}}
    ]},
   {"width":245,"height":35,
    "encoding":{"x":{"field":"t","type":"quantitative","scale":{"domain":[0,2.82],"nice":false},"axis":{"values":[0,0.5,1,1.5,2,2.5],"format":".1f","title":"Time(s)","labelPadding":0.7,"titleY":10}}},
    "layer":[
     {"data":{"name":"D"},"mark":{"type":"line","color":"#2b6e2b","strokeWidth":1},"encoding":{"y":{"field":"i","type":"quantitative","scale":{"domain":[0.7,1],"nice":false,"zero":false},"axis":{"values":[0.7,0.8,0.9,1],"format":".1f","title":"IOU","titleX":-27}}}},
     {"data":{"name":"Dm"},"mark":{"type":"rule","color":"#444","strokeWidth":1,"strokeDash":[3,2]},"encoding":{}}
    ]}
  ],"spacing":5,"bounds":"flush"}
 ],"spacing":34.5}
],
"spacing":5.9,
"resolve":{"scale":{"color":"independent"},"legend":{"color":"independent"}}
}
